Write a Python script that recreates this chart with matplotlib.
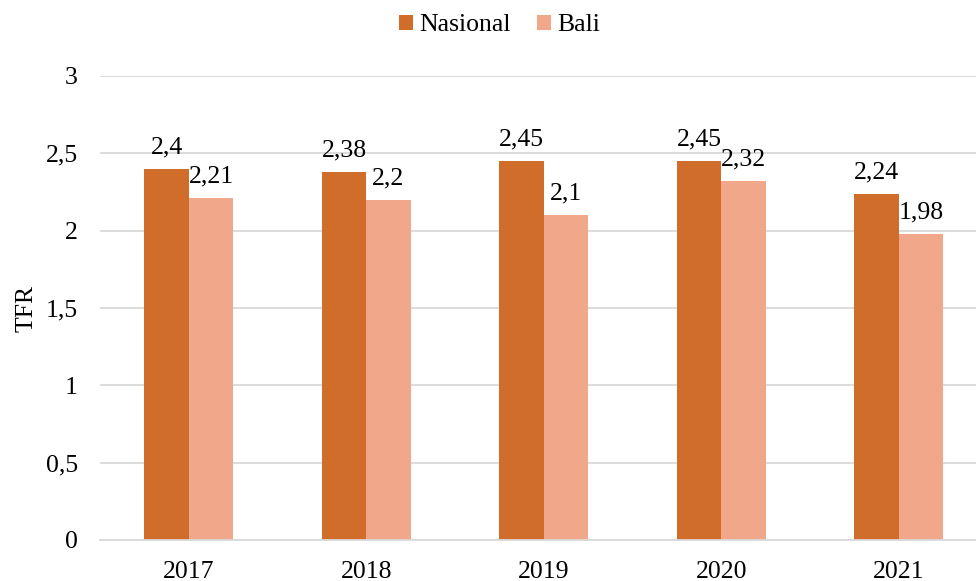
import matplotlib.pyplot as plt
import numpy as np

years = ['2017', '2018', '2019', '2020', '2021']
nasional = [2.4, 2.38, 2.45, 2.45, 2.24]
bali = [2.21, 2.2, 2.1, 2.32, 1.98]
labels_nasional = ['2,4', '2,38', '2,45', '2,45', '2,24']
labels_bali = ['2,21', '2,2', '2,1', '2,32', '1,98']
yticks = [0, 0.5, 1, 1.5, 2, 2.5, 3]
yticklabels = ['0', '0,5', '1', '1,5', '2', '2,5', '3']

plt.rcParams['font.family'] = ['Liberation Serif', 'DejaVu Serif']
FS = 18.5

fig = plt.figure(figsize=(9.76, 5.81), dpi=100)
ax = fig.add_axes([0.1025, 0.0706, 0.8975, 0.7986])

x = np.arange(len(years))
w = 0.25
b1 = ax.bar(x - w / 2, nasional, w, color='#D16D2A', label='Nasional', zorder=2)
b2 = ax.bar(x + w / 2, bali, w, color='#F1A88A', label='Bali', zorder=2)

# data labels above each bar
for bars, labs in [(b1, labels_nasional), (b2, labels_bali)]:
    for rect, lab in zip(bars, labs):
        ax.annotate(lab, (rect.get_x() + rect.get_width() / 2, rect.get_height()),
                    xytext=(0, 7.5), textcoords='offset points', ha='center', va='bottom', fontsize=FS)

ax.set_xlim(-0.5, 4.435)
ax.set_ylim(0, 3)
ax.set_yticks(yticks)
ax.set_yticklabels(yticklabels)
ax.set_xticks(x)
ax.set_xticklabels(years)
ax.tick_params(axis='both', length=0, labelsize=FS)
ax.tick_params(axis='y', pad=16)
ax.tick_params(axis='x', pad=15)
ax.grid(axis='y', color='#D9D9D9', linewidth=1.3, zorder=0)
for s in ['top', 'right', 'left']:
    ax.spines[s].set_visible(False)
ax.spines['bottom'].set_color('#D9D9D9')
ax.spines['bottom'].set_linewidth(1.3)
ax.set_ylabel('TFR', fontsize=FS, labelpad=6)

fig.legend(loc='upper center', bbox_to_anchor=(0.512, 1.015), ncol=2, frameon=False,
           fontsize=FS, handlelength=0.55, handleheight=0.55, handletextpad=0.25, columnspacing=1.0)

fig.savefig('out.png', dpi=100)
